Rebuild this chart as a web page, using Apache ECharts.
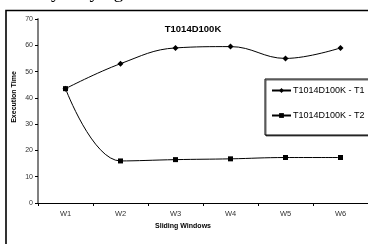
<!DOCTYPE html>
<html>
<head>
<meta charset="utf-8">
<script src="https://cdn.jsdelivr.net/npm/echarts@6/dist/echarts.min.js"></script>
<style>
  html, body { margin: 0; padding: 0; background: #fff; }
  #main { width: 368px; height: 244px; }
</style>
</head>
<body>
<div id="main"></div>
<script>
// sliding windows
var windows = ['W1', 'W2', 'W3', 'W4', 'W5', 'W6'];
var yTicks = [0, 10, 20, 30, 40, 50, 60, 70];
var seriesT1 = [43.5, 53, 59, 59.5, 55, 59];
var seriesT2 = [43.5, 16, 16.5, 16.8, 17.3, 17.3];

var myChart = echarts.init(document.getElementById('main'));
var option = {
    animation: false,
    textStyle: { fontFamily: 'Liberation Sans' },
    title: {
        text: 'T1014D100K',
        left: 188,
        top: 19,
        textAlign: 'center',
        textStyle: { fontSize: 9.5, fontWeight: 'bold', color: '#000' }
    },
    graphic: [
        {
            type: 'text',
            left: 5,
            top: -16,
            style: {
                text: 'data by varying windows',
                font: '19px "Liberation Serif"',
                fill: '#000'
            }
        },
        {
            type: 'rect',
            shape: { x: 6, y: 10.5, width: 420, height: 300 },
            style: { fill: 'none', stroke: '#000', lineWidth: 1.6 },
            z: 10
        },
        {
            type: 'text',
            x: 14,
            y: 97,
            rotation: Math.PI / 2,
            style: {
                text: 'Execution Time',
                font: 'bold 7px "Liberation Sans"',
                fill: '#000',
                textAlign: 'center',
                textVerticalAlign: 'middle'
            }
        }
    ],
    legend: {
        orient: 'vertical',
        left: 265,
        top: 79,
        padding: [7, 6, 15, 6],
        itemGap: 16,
        itemWidth: 19,
        itemHeight: 6,
        borderColor: '#000',
        borderWidth: 1,
        backgroundColor: '#fff',
        shadowColor: 'rgba(0,0,0,0.6)',
        shadowOffsetX: 1,
        shadowOffsetY: 1,
        textStyle: { fontSize: 9, color: '#000', padding: [0, 0, 0, -3] },
        data: ['T1014D100K - T1', 'T1014D100K - T2']
    },
    grid: { left: 38, right: 0, top: 19, bottom: 41, containLabel: false },
    xAxis: {
        type: 'category',
        data: windows,
        name: 'Sliding Windows',
        nameLocation: 'middle',
        nameGap: 11,
        nameTextStyle: { fontSize: 7, fontWeight: 'bold', color: '#000', padding: [0, 40, 0, 0] },
        axisLine: { lineStyle: { color: '#000', width: 1 } },
        axisTick: { show: true, length: 3, lineStyle: { color: '#000' } },
        axisLabel: { fontSize: 7.5, color: '#333', margin: 7 }
    },
    yAxis: {
        type: 'value',
        min: 0,
        max: 70,
        interval: 10,
        axisLine: { show: true, lineStyle: { color: '#808080', width: 2 } },
        axisTick: { show: true, length: 3, lineStyle: { color: '#000' } },
        axisLabel: {
            fontSize: 7, color: '#333', margin: 5,
            formatter: function (v) { return yTicks.indexOf(v) >= 0 ? String(v) : ''; }
        },
        splitLine: { show: false }
    },
    series: [
        {
            name: 'T1014D100K - T1',
            type: 'line',
            smooth: 0.4,
            data: seriesT1,
            symbol: 'diamond',
            symbolSize: 6,
            itemStyle: { color: '#000' },
            lineStyle: { color: '#000', width: 1 }
        },
        {
            name: 'T1014D100K - T2',
            type: 'line',
            smooth: 0.4,
            data: seriesT2,
            symbol: 'rect',
            symbolSize: 5,
            itemStyle: { color: '#000' },
            lineStyle: { color: '#000', width: 1 }
        }
    ]
};
myChart.setOption(option);
</script>
</body>
</html>
